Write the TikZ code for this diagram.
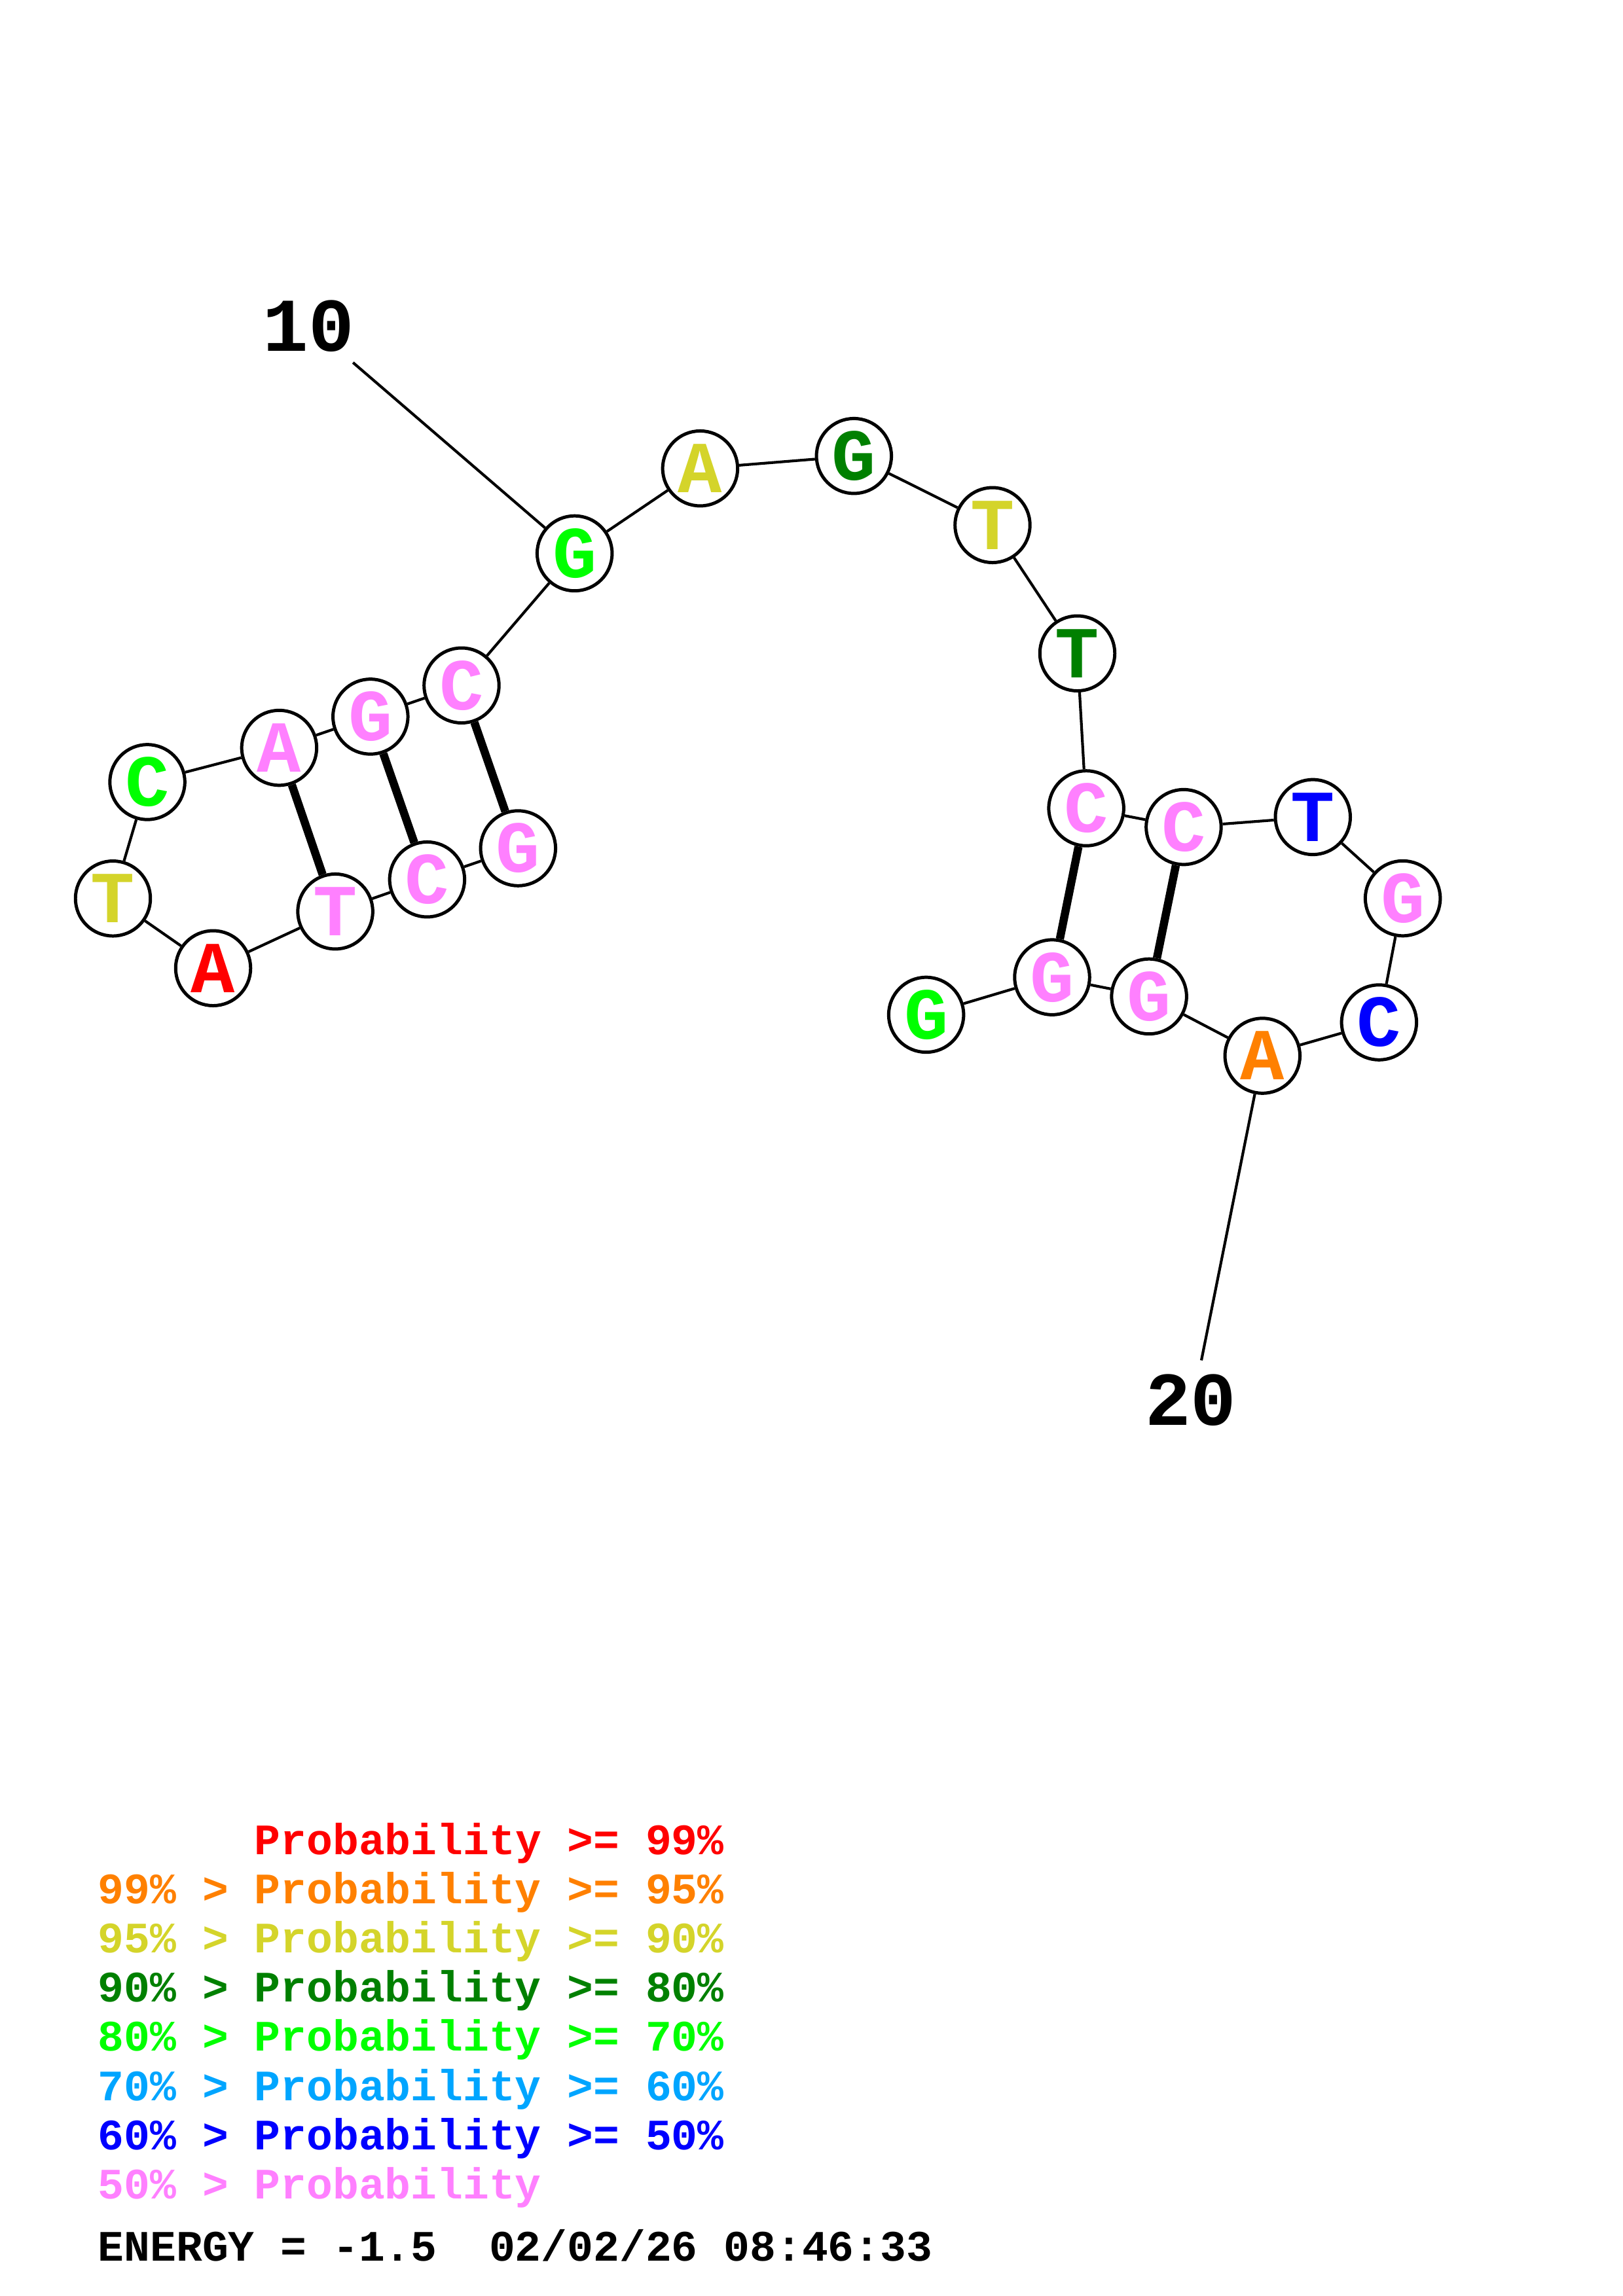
\documentclass[tikz,border=0pt]{standalone}
\usepackage{fontspec}
\usepackage{tikz}
\usetikzlibrary{shapes,arrows}
\newfontfamily\courfont{Liberation Mono}

\definecolor{pred}{RGB}{255,0,0}
\definecolor{porange}{RGB}{255,128,0}
\definecolor{pyellow}{RGB}{212,212,42}
\definecolor{pdkgreen}{RGB}{0,128,0}
\definecolor{pgreen}{RGB}{0,255,0}
\definecolor{plblue}{RGB}{0,165,255}
\definecolor{pblue}{RGB}{0,0,255}
\definecolor{ppink}{RGB}{255,128,255}

\begin{document}
\begin{tikzpicture}[x=0.18953mm,y=-0.18953mm,line width=1pt,
  base/.style={circle,draw,fill=white,line width=1.2pt,minimum size=9.7mm,inner sep=0pt,
    font=\courfont\bfseries\fontsize{27}{27}\selectfont},
  pair/.style={line width=3pt},
  numlab/.style={font=\courfont\bfseries\fontsize{28}{28}\selectfont},
  legend/.style={anchor=base west,inner sep=0pt,font=\courfont\bfseries\fontsize{16}{16}\selectfont}]
\useasboundingbox (0,0) rectangle (1108,1568);

\node[base,text=ppink](n1) at (353.7,579.3) {G};
\node[base,text=ppink](n2) at (291.6,600.6) {C};
\node[base,text=ppink](n3) at (228.9,622.5) {T};
\node[base,text=pred](n4) at (145.5,661.2) {A};
\node[base,text=pyellow](n5) at (77.1,613.6) {T};
\node[base,text=pgreen](n6) at (100.6,534.1) {C};
\node[base,text=ppink](n7) at (190.6,510.7) {A};
\node[base,text=ppink](n8) at (252.9,489.4) {G};
\node[base,text=ppink](n9) at (315.1,468.1) {C};
\node[base,text=pgreen](n10) at (392.3,377.9) {G};
\node[base,text=pyellow](n11) at (478,319.9) {A};
\node[base,text=pdkgreen](n12) at (583,311.4) {G};
\node[base,text=pyellow](n13) at (677.6,358.6) {T};
\node[base,text=pdkgreen](n14) at (735.5,446.2) {T};
\node[base,text=ppink](n15) at (741.6,552) {C};
\node[base,text=ppink](n16) at (808.1,564.8) {C};
\node[base,text=pblue](n17) at (896.3,558) {T};
\node[base,text=ppink](n18) at (957.7,613.5) {G};
\node[base,text=pblue](n19) at (941.5,698.2) {C};
\node[base,text=porange](n20) at (861.9,721) {A};
\node[base,text=ppink](n21) at (784.5,680.5) {G};
\node[base,text=ppink](n22) at (718.3,667.4) {G};
\node[base,text=pgreen](n23) at (632.3,693) {G};

% backbone
\draw (n1) -- (n2) -- (n3) -- (n4) -- (n5) -- (n6) -- (n7) -- (n8) -- (n9) -- (n10) -- (n11) -- (n12);
\draw (n12) -- (n13) -- (n14) -- (n15) -- (n16) -- (n17) -- (n18) -- (n19) -- (n20) -- (n21) -- (n22) -- (n23);

% base pairs
\draw[pair] (n1) -- (n9);
\draw[pair] (n2) -- (n8);
\draw[pair] (n3) -- (n7);
\draw[pair] (n15) -- (n22);
\draw[pair] (n16) -- (n21);

% position labels
\coordinate (t10) at (241,247.6);
\coordinate (t20) at (820.2,929);
\node[numlab](lab10) at (210.7,222.9) {10};
\node[numlab](lab20) at (813,956.3) {20};
\draw (t10) -- (n10);
\draw (t20) -- (n20);

% legend
\node[legend,text=pred](k1) at (66,1266.5) {\phantom{99\% > }Probability >= 99\%};
\node[legend,text=porange](k2) at (66,1300.1) {99\% > Probability >= 95\%};
\node[legend,text=pyellow](k3) at (66,1333.6) {95\% > Probability >= 90\%};
\node[legend,text=pdkgreen](k4) at (66,1367.2) {90\% > Probability >= 80\%};
\node[legend,text=pgreen](k5) at (66,1400.8) {80\% > Probability >= 70\%};
\node[legend,text=plblue](k6) at (66,1434.4) {70\% > Probability >= 60\%};
\node[legend,text=pblue](k7) at (66,1468) {60\% > Probability >= 50\%};
\node[legend,text=ppink](k8) at (66,1501.5) {50\% > Probability};
\node[legend](energy) at (66,1544) {ENERGY = -1.5~ 02/02/26 08:46:33};
\end{tikzpicture}
\end{document}
